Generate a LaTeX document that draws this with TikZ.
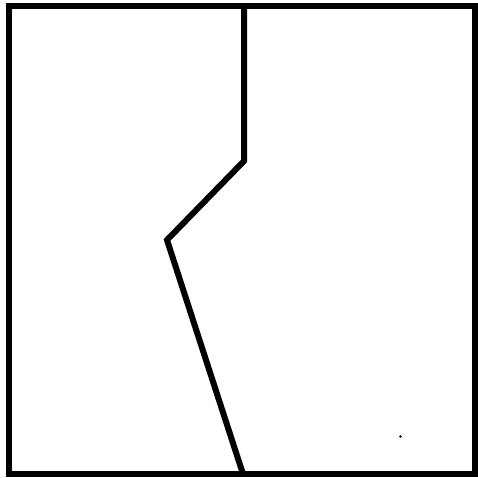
\documentclass[tikz,border=0pt]{standalone}
\usepackage{tikz}
\begin{document}
\begin{tikzpicture}[x=1pt, y=-1pt, line width=6pt]
    \useasboundingbox (0,0) rectangle (478,478);
    % Draw Frame
    \draw (9,6) rectangle (475,474);
    % Draw Crack
    \draw (244,6) -- (244,161) -- (167,240) -- (243,474);
    % Small speck
    \fill (400.5,436.5) circle (1.3pt);
\end{tikzpicture}
\end{document}
